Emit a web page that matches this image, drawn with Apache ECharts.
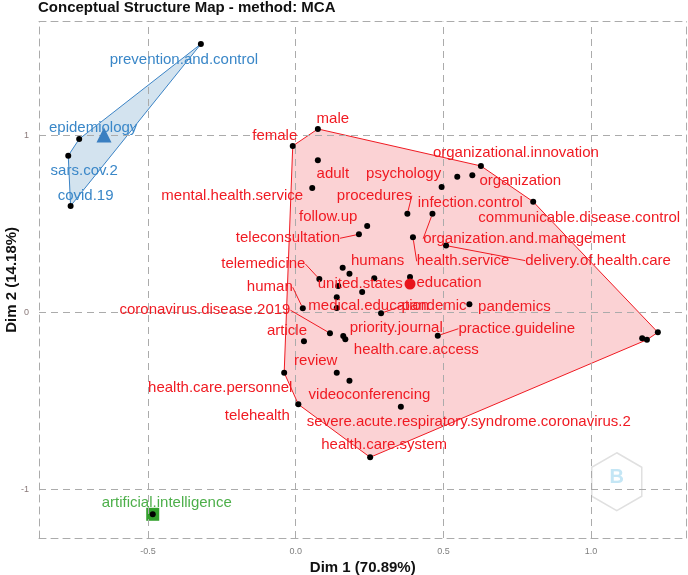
<!DOCTYPE html>
<html><head><meta charset="utf-8">
<script src="https://cdn.jsdelivr.net/npm/echarts@6/dist/echarts.min.js"></script>
<style>html,body{margin:0;padding:0;background:#fff}#c{width:688px;height:575px}</style>
</head><body><div id="c"></div>
<script>
// ---------------- DATA ----------------
const xTicks = [-0.5, 0, 0.5, 1.0];
const xTickLabels = ['-0.5', '0.0', '0.5', '1.0'];
const yTicks = [-1, 0, 1];
const yTickLabels = ['-1', '0', '1'];

const blueTerms = ['prevention.and.control', 'epidemiology', 'sars.cov.2', 'covid.19'];
const blueX = [-0.321, -0.733, -0.770, -0.762];
const blueY = [1.518, 0.981, 0.887, 0.603];
const blueCentroid = [-0.649, 1.004];

const greenTerms = ['artificial.intelligence'];
const greenX = [-0.484];
const greenY = [-1.139];
const greenCentroid = [-0.484, -1.139];

const redTerms = ['male', 'female', 'adult', 'mental.health.service', 'organizational.innovation',
  'infection.control', 'organization', 'psychology', 'communicable.disease.control', 'procedures',
  'organization.and.management', 'follow.up', 'teleconsultation', 'health.service', 'delivery.of.health.care',
  'humans', '', 'telemedicine', 'united.states', 'education', '', '', '', 'medical.education', 'human',
  'pandemic', 'pandemics', 'coronavirus.disease.2019', 'priority.journal', 'health.care.access', 'article',
  'practice.guideline', 'health.care.personnel', 'review', 'videoconferencing', 'telehealth',
  'severe.acute.respiratory.syndrome.coronavirus.2', 'health.care.system', '', '', ''];
const redX = [0.075, -0.010, 0.075, 0.056, 0.627, 0.547, 0.598, 0.494, 0.804, 0.378,
  0.463, 0.242, 0.214, 0.397, 0.509, 0.159, 0.182, 0.080, 0.144, 0.387, 0.266, 0.225, 0.139, 0.139, 0.024,
  0.289, 0.588, 0.116, 0.161, 0.168, 0.028, 0.481, -0.039, 0.139, 0.182, 0.009, 0.356, 0.252, 1.226, 1.173, 1.189];
const redY = [1.038, 0.942, 0.861, 0.705, 0.829, 0.768, 0.776, 0.710, 0.627, 0.559,
  0.559, 0.490, 0.443, 0.426, 0.379, 0.254, 0.220, 0.190, 0.151, 0.202, 0.194, 0.117, 0.087, 0.027, 0.025,
  -0.003, 0.047, -0.116, -0.132, -0.150, -0.162, -0.130, -0.339, -0.339, -0.384, -0.518, -0.531, -0.817, -0.111, -0.145, -0.153];
const redCentroid = [0.387, 0.162];

// ---------------- LAYOUT (label offsets in px, guide lines) ----------------
const labelOffsets = {
  'prevention.and.control': [-17, 16], 'epidemiology': [14, -11], 'sars.cov.2': [16, 15], 'covid.19': [15, -10],
  'artificial.intelligence': [14, -11],
  'male': [15, -10], 'female': [-18, -10], 'adult': [15, 14], 'mental.health.service': [-80, 8],
  'organizational.innovation': [35, -13], 'infection.control': [13, 26], 'organization': [48, 6],
  'psychology': [-38, -13], 'communicable.disease.control': [46, 16], 'procedures': [-33, -18],
  'organization.and.management': [92, 25], 'follow.up': [-39, -9], 'teleconsultation': [-71, 4],
  'health.service': [50, 24], 'delivery.of.health.care': [152, 15], 'humans': [35, -7],
  'telemedicine': [-56, -15], 'united.states': [22, -2], 'education': [39, 6], 'medical.education': [32, -2],
  'human': [-33, -21], 'pandemic': [53, -7], 'pandemics': [45, 2], 'coronavirus.disease.2019': [-125, -23],
  'priority.journal': [53, -8], 'health.care.access': [71, 11], 'article': [-17, -10],
  'practice.guideline': [79, -7], 'health.care.personnel': [-64, 15], 'review': [-21, -12],
  'videoconferencing': [20, 14], 'telehealth': [-41, 11],
  'severe.acute.respiratory.syndrome.coronavirus.2': [68, 15], 'health.care.system': [14, -12]
};
const guided = ['procedures', 'organization.and.management', 'teleconsultation', 'health.service',
  'delivery.of.health.care', 'telemedicine', 'human', 'coronavirus.disease.2019', 'pandemic', 'practice.guideline'];

const RED = '#f01a22', BLUE = '#3a87c8', GREEN = '#4daf4a';
const FONT = '"Liberation Sans", Arial, sans-serif';

function convexHull(points) {
  const pts = points.slice().sort((a, b) => a[0] - b[0] || a[1] - b[1]);
  const cross = (o, a, b) => (a[0] - o[0]) * (b[1] - o[1]) - (a[1] - o[1]) * (b[0] - o[0]);
  const lower = [];
  for (const p of pts) { while (lower.length >= 2 && cross(lower[lower.length - 2], lower[lower.length - 1], p) <= 0) lower.pop(); lower.push(p); }
  const upper = [];
  for (let i = pts.length - 1; i >= 0; i--) { const p = pts[i]; while (upper.length >= 2 && cross(upper[upper.length - 2], upper[upper.length - 1], p) <= 0) upper.pop(); upper.push(p); }
  upper.pop(); lower.pop();
  return lower.concat(upper);
}
function hullSeries(xs, ys, fill, stroke) {
  const h = convexHull(xs.map((x, i) => [x, ys[i]]));
  return {
    type: 'custom', z: 2, silent: true, data: [h[0]],
    renderItem: (params, api) => ({
      type: 'polygon',
      shape: { points: h.map(p => api.coord(p)) },
      style: { fill: fill, stroke: stroke, lineWidth: 1 }
    })
  };
}
function pointSeries(terms, xs, ys, color) {
  return {
    type: 'scatter', z: 5, symbolSize: 6, itemStyle: { color: '#000', opacity: 1 },
    data: terms.map((t, i) => {
      const d = { name: t, value: [xs[i], ys[i]] };
      if (guided.includes(t)) d.labelLine = { show: true };
      return d;
    }),
    label: { show: true, position: 'inside', formatter: '{b}', color: color, fontSize: 15, fontFamily: FONT },
    labelLine: { show: false, lineStyle: { color: color, width: 1 } },
    labelLayout: p => { const o = labelOffsets[p.text]; return o ? { dx: o[0], dy: o[1] } : {}; },
    emphasis: { disabled: true }
  };
}

const grid = { left: 39, right: 1.5, top: 21.7, bottom: 37, outerBoundsMode: 'none', containLabel: false };
const dashed = { color: '#ababab', type: [7, 5], width: 1 };
const gridLines = [];
xTicks.forEach(v => gridLines.push({ xAxis: v }));
yTicks.forEach(v => gridLines.push({ yAxis: v }));

const option = {
  backgroundColor: '#fff',
  animation: false,
  title: { text: 'Conceptual Structure Map - method: MCA', left: 38, top: 0, padding: 0,
    textStyle: { fontSize: 15, fontWeight: 'bold', color: '#111', fontFamily: FONT } },
  grid: grid,
  xAxis: [
    { type: 'value', min: -0.869, max: 1.323, position: 'bottom',
      axisLine: { show: true, onZero: false, lineStyle: dashed }, axisTick: { show: false }, splitLine: { show: false },
      axisLabel: { customValues: xTicks, formatter: v => xTickLabels[xTicks.indexOf(v)], fontSize: 9, color: '#7f7f7f', margin: 9, fontFamily: FONT },
      name: 'Dim 1 (70.89%)', nameLocation: 'middle', nameGap: 22, nameMoveOverlap: false,
      nameTextStyle: { fontSize: 15, fontWeight: 'bold', color: '#111', fontFamily: FONT } },
    { type: 'value', min: -0.869, max: 1.323, position: 'top',
      axisLine: { show: true, onZero: false, lineStyle: dashed }, axisTick: { show: false }, splitLine: { show: false }, axisLabel: { show: false } }
  ],
  yAxis: [
    { type: 'value', min: -1.273, max: 1.644, position: 'left',
      axisLine: { show: true, onZero: false, lineStyle: dashed }, axisTick: { show: false }, splitLine: { show: false },
      axisLabel: { customValues: yTicks, formatter: v => yTickLabels[yTicks.indexOf(v)], fontSize: 9, color: '#8a7a7a', margin: 10, fontFamily: FONT },
      name: 'Dim 2 (14.18%)', nameLocation: 'middle', nameGap: 20, nameMoveOverlap: false,
      nameTextStyle: { fontSize: 15, fontWeight: 'bold', color: '#111', fontFamily: FONT } },
    { type: 'value', min: -1.273, max: 1.644, position: 'right',
      axisLine: { show: true, onZero: false, lineStyle: dashed }, axisTick: { show: false }, splitLine: { show: false }, axisLabel: { show: false } }
  ],
  graphic: [{
    type: 'group', left: 591, top: 452, silent: true,
    children: [
      { type: 'polygon', shape: { points: [[25, 0], [50, 14.5], [50, 43.5], [25, 58], [0, 43.5], [0, 14.5]] },
        style: { fill: 'rgba(255,255,255,0.5)', stroke: '#e0e0e0', lineWidth: 1.5 } },
      { type: 'text', x: 25, y: 25, style: { text: 'B', fill: '#c4e6f5', font: 'bold 20px "Liberation Sans"', align: 'center', verticalAlign: 'middle' } }
    ]
  }],
  series: [
    { type: 'scatter', data: [], z: 1, silent: true,
      markLine: { silent: true, symbol: ['none', 'none'], label: { show: false }, lineStyle: dashed, data: gridLines, animation: false } },
    hullSeries(redX, redY, 'rgba(236,32,40,0.2)', RED),
    hullSeries(blueX, blueY, 'rgba(55,126,184,0.22)', '#3c84c6'),
    { type: 'scatter', z: 4, symbol: 'rect', symbolSize: 13, itemStyle: { color: '#33a02c', opacity: 1 }, data: [greenCentroid], silent: true },
    pointSeries(blueTerms, blueX, blueY, BLUE),
    pointSeries(greenTerms, greenX, greenY, GREEN),
    pointSeries(redTerms, redX, redY, RED),
    { type: 'scatter', z: 6, symbol: 'triangle', symbolSize: 15, itemStyle: { color: '#3a7fc1', opacity: 1 }, data: [blueCentroid], silent: true },
    { type: 'scatter', z: 6, symbol: 'circle', symbolSize: 11, itemStyle: { color: '#e8141c', opacity: 1 }, data: [redCentroid], silent: true }
  ]
};
const chart = echarts.init(document.getElementById('c'), null, { renderer: 'canvas' });
chart.setOption(option);
</script></body></html>
